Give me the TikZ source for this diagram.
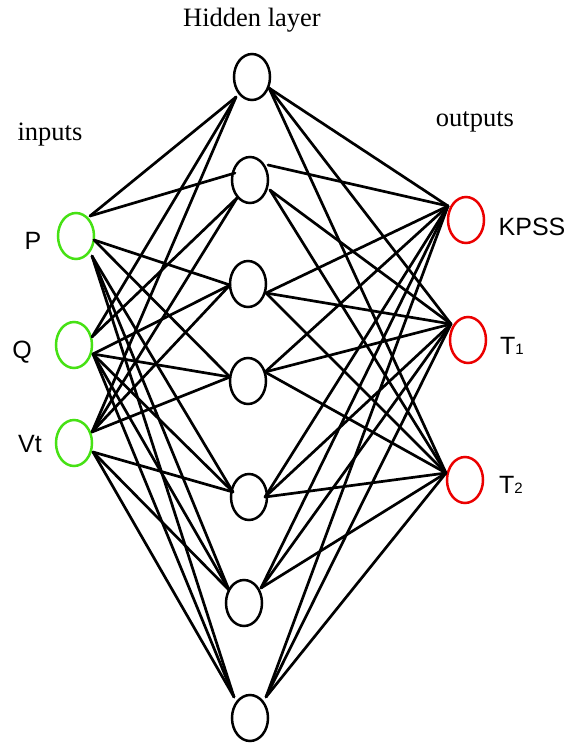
\documentclass[tikz,border=0pt]{standalone}
\usepackage{fontspec}
\setmainfont{Liberation Serif}
\setsansfont{Liberation Sans}
\usetikzlibrary{shapes.geometric}
\definecolor{ingreen}{RGB}{70,225,20}
\definecolor{outred}{RGB}{235,0,0}
\tikzset{
  neuron/.style={ellipse, draw, line width=2.5pt, minimum width=36pt, minimum height=46pt, inner sep=0pt},
  innode/.style={neuron, draw=ingreen},
  hidnode/.style={neuron, draw=black},
  outnode/.style={neuron, draw=outred},
  link/.style={line width=2.7pt, black, line cap=round},
  title/.style={font=\fontsize{26.5}{30}\selectfont},
  sig/.style={font=\sffamily\fontsize{25}{28}\selectfont},
}
\begin{document}
\begin{tikzpicture}[x=1pt,y=-1pt]
\useasboundingbox (0,0) rectangle (577,748);
% inputs
\node[innode] (P)  at (76,236) {};
\node[innode] (Q)  at (74,345) {};
\node[innode] (Vt) at (74,443) {};
% hidden layer
\node[hidnode] (h1) at (252,77) {};
\node[hidnode] (h2) at (250,180) {};
\node[hidnode] (h3) at (248,284) {};
\node[hidnode] (h4) at (248,381) {};
\node[hidnode] (h5) at (249,497) {};
\node[hidnode] (h6) at (244,603) {};
\node[hidnode] (h7) at (250,718) {};
% outputs
\node[outnode] (K)  at (466,220) {};
\node[outnode] (T1) at (468,340) {};
\node[outnode] (T2) at (465,480) {};
% points where the wires meet the neurons
\coordinate (Pu) at (90,216);  \coordinate (Pm) at (94,240);  \coordinate (Pd) at (92,256);
\coordinate (Qu) at (92,337);  \coordinate (Qd) at (93,354);
\coordinate (Vu) at (92,432);  \coordinate (Vd) at (93,452);
\coordinate (h1L) at (236,97);  \coordinate (h1R) at (269,88);
\coordinate (h2La) at (235,173); \coordinate (h2L) at (237,198);
\coordinate (h2Ra) at (268,165); \coordinate (h2R) at (270,190);
\coordinate (h3L) at (230,285); \coordinate (h3R) at (266,293);
\coordinate (h4L) at (230,377); \coordinate (h4R) at (265,372);
\coordinate (h5L) at (233,492); \coordinate (h5R) at (265,497);
\coordinate (h6L) at (229,590); \coordinate (h6R) at (261,588);
\coordinate (h7L) at (234,697); \coordinate (h7R) at (266,697);
\coordinate (KL) at (448,206);
\coordinate (T1L) at (451,324);
\coordinate (T2L) at (446,473);
% input to hidden
\draw[link] (Pu) -- (h1L);
\draw[link] (Pu) -- (h2La);
\draw[link] (Pm) -- (h3L);
\draw[link] (Pm) -- (h4L);
\foreach \h in {h5L,h6L,h7L} \draw[link] (Pd) -- (\h);
\foreach \h in {h1L,h2L} \draw[link] (Qu) -- (\h);
\foreach \h in {h3L,h4L,h5L,h6L,h7L} \draw[link] (Qd) -- (\h);
\foreach \h in {h1L,h2L,h3L,h4L} \draw[link] (Vu) -- (\h);
\foreach \h in {h5L,h6L,h7L} \draw[link] (Vd) -- (\h);
% hidden to output
\draw[link] (h2Ra) -- (KL);
\foreach \o in {T1L,T2L} \draw[link] (h2R) -- (\o);
\foreach \h in {h1R,h3R,h4R,h5R,h6R,h7R}
  \foreach \o in {KL,T1L,T2L}
    \draw[link] (\h) -- (\o);
% labels
\node[title] (lh) at (252,20) {Hidden layer};
\node[title] (li) at (50,135) {inputs};
\node[title] (lo) at (475,122) {outputs};
\node[sig] (lP) at (33,241) {P};
\node[sig] (lQ) at (22,352) {Q};
\node[sig] (lV) at (30,444) {Vt};
\node[sig] (lK) at (532,227) {KPSS};
\node[sig] (l1) at (512,346) {T{\fontsize{15}{15}\selectfont 1}};
\node[sig] (l2) at (511,485) {T{\fontsize{15}{15}\selectfont 2}};
\end{tikzpicture}
\end{document}
